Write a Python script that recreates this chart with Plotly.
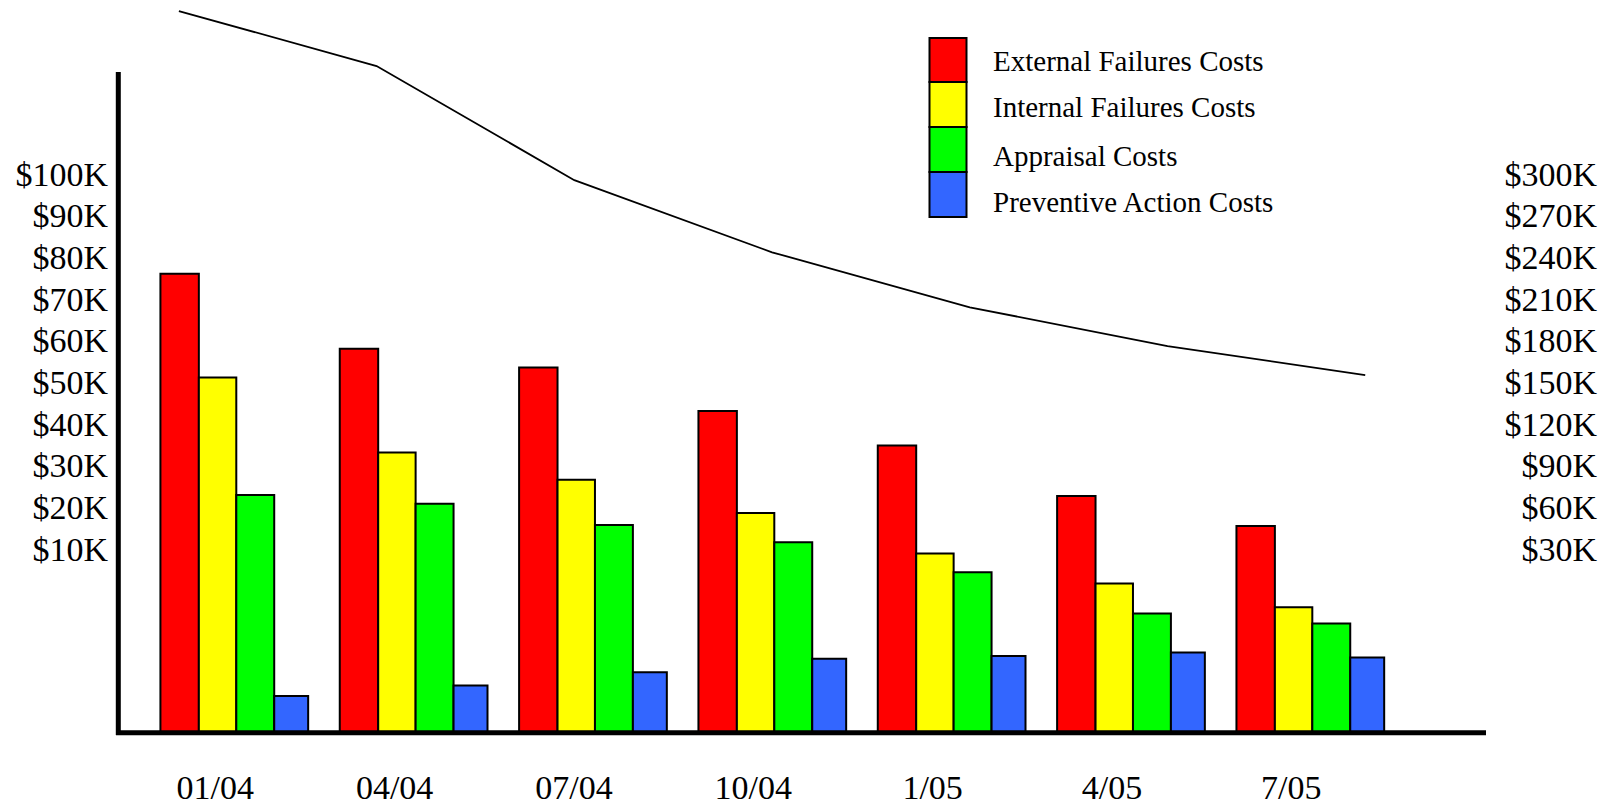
import plotly.graph_objects as go

# ---- data (heights measured from the baseline, in chart units) ----
quarters = ["01/04", "04/04", "07/04", "10/04", "1/05", "4/05", "7/05"]
external_failures = [110.2, 92.2, 87.7, 77.3, 69.0, 56.9, 49.7]
internal_failures = [85.3, 67.3, 60.8, 52.8, 43.1, 35.9, 30.2]
appraisal = [57.1, 55.0, 49.9, 45.8, 38.6, 28.7, 26.3]
preventive_action = [8.9, 11.4, 14.6, 17.8, 18.5, 19.3, 18.1]
total_costs = [519.8, 480.2, 398.0, 346.1, 306.5, 278.6, 257.7]   # right-axis units

left_tick_labels = ["$10K", "$20K", "$30K", "$40K", "$50K",
                    "$60K", "$70K", "$80K", "$90K", "$100K"]
right_tick_labels = ["$30K", "$60K", "$90K", "$120K", "$150K",
                     "$180K", "$210K", "$240K", "$270K", "$300K"]

series_names = ["External Failures Costs", "Internal Failures Costs",
                "Appraisal Costs", "Preventive Action Costs"]
colors = ["#FF0000", "#FFFF00", "#00FF00", "#3366FF"]

# ---- layout geometry ----
W, H = 1612, 805
ML, MR, MT, MB = 118, 10, 0, 72
PW = W - ML - MR          # paper width in px
PH = H - MT - MB          # paper height in px
PLOT_RIGHT_PX = 1486
XDOM = (PLOT_RIGHT_PX - ML) / PW
Y_TOP = 175.91            # y range top (units)
FIRST_TICK = 44.23
TICK_STEP = 10.0

GROUP_PX = 179.66
X_RANGE = [-(234.5 - ML) / GROUP_PX, 6 + (PLOT_RIGHT_PX - 1310) / GROUP_PX]
LINE_PX = 198.1
X2_RANGE = [-(179 - ML) / LINE_PX, 6 + (PLOT_RIGHT_PX - 1365) / LINE_PX]

FONT = "Liberation Serif, Times New Roman, serif"


def px_x(px):
    return (px - ML) / PW


def px_y(py):
    return 1 - (py - MT) / PH


fig = go.Figure()

series = [external_failures, internal_failures, appraisal, preventive_action]
bar_offsets_px = [(-74, 38.5), (-35.5, 37.5), (2, 38), (40, 34)]
for name, vals, col, (off, wid) in zip(series_names, series, colors, bar_offsets_px):
    fig.add_trace(go.Bar(
        x=quarters, y=vals, name=name,
        marker=dict(color=col, line=dict(color="black", width=2)),
        offset=off / GROUP_PX, width=wid / GROUP_PX,
        showlegend=False,
    ))

fig.add_trace(go.Scatter(
    x=quarters, y=total_costs, name="Total Quality Costs",
    mode="lines", line=dict(color="black", width=1.8),
    xaxis="x2", yaxis="y2", showlegend=False,
))

left_tickvals = [FIRST_TICK + TICK_STEP * i for i in range(len(left_tick_labels))]
right_tickvals = [3 * v for v in left_tickvals]

shapes = [
    # left axis line
    dict(type="line", xref="paper", yref="paper",
         x0=px_x(118.3), x1=px_x(118.3), y0=px_y(735), y1=px_y(72),
         line=dict(color="black", width=5)),
    # baseline
    dict(type="line", xref="paper", yref="paper",
         x0=px_x(116), x1=px_x(1486), y0=px_y(732.7), y1=px_y(732.7),
         line=dict(color="black", width=5)),
]

annotations = []
legend_tops = [38, 82, 127, 172]
legend_text_y = [61, 107, 156, 202]
for i, (name, col) in enumerate(zip(series_names, colors)):
    top = legend_tops[i]
    bot = legend_tops[i + 1] if i + 1 < len(legend_tops) else 217
    shapes.append(dict(type="rect", xref="paper", yref="paper",
                       x0=px_x(929.5), x1=px_x(966.5), y0=px_y(bot), y1=px_y(top),
                       fillcolor=col, line=dict(color="black", width=2)))
    annotations.append(dict(xref="paper", yref="paper", x=px_x(991), y=px_y(legend_text_y[i]),
                            xanchor="left", yanchor="middle", showarrow=False,
                            text=name, font=dict(family=FONT, size=29, color="black")))

fig.update_layout(
    width=W, height=H,
    margin=dict(l=ML, r=MR, t=MT, b=MB, pad=0, autoexpand=False),
    paper_bgcolor="white", plot_bgcolor="white",
    barmode="overlay",
    font=dict(family=FONT, color="black"),
    xaxis=dict(domain=[0, XDOM], type="category", range=X_RANGE, automargin=False,
               showgrid=False, zeroline=False, showline=False, ticks="",
               tickfont=dict(family=FONT, size=34, color="black"),
               ticklabelstandoff=31, ticklabelshift=-19),
    xaxis2=dict(domain=[0, XDOM], type="category", range=X2_RANGE, overlaying="x",
                anchor="y", showgrid=False, zeroline=False, showline=False,
                showticklabels=False, ticks="", automargin=False),
    yaxis=dict(range=[0, Y_TOP], tickmode="array", tickvals=left_tickvals,
               ticktext=left_tick_labels, showgrid=False, zeroline=False,
               showline=False, ticks="", ticklabelstandoff=9, automargin=False,
               tickfont=dict(family=FONT, size=34, color="black")),
    yaxis2=dict(range=[0, 3 * Y_TOP], tickmode="array", tickvals=right_tickvals,
                ticktext=right_tick_labels, overlaying="y", anchor="free",
                position=px_x(1597), side="left", showgrid=False, zeroline=False,
                showline=False, ticks="", automargin=False,
                tickfont=dict(family=FONT, size=34, color="black")),
    shapes=shapes,
    annotations=annotations,
)

fig.write_html(
    "out.html",
    config={"displayModeBar": False},
    post_script="document.body.style.margin='0';document.body.style.overflow='hidden';",
)
